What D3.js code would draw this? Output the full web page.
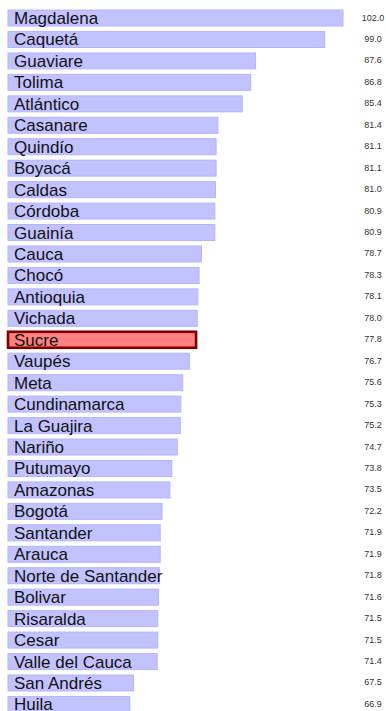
<!DOCTYPE html>
<html>
<head>
<meta charset="utf-8">
<script src="https://cdn.jsdelivr.net/npm/d3@7"></script>
<style>
  html, body { margin: 0; padding: 0; background: #fff; }
  svg { display: block; }
</style>
</head>
<body>
<div id="chart"></div>
<script>
// Departments, in ranked order
const departments = [
  "Magdalena", "Caquetá", "Guaviare", "Tolima", "Atlántico", "Casanare",
  "Quindío", "Boyacá", "Caldas", "Córdoba", "Guainía", "Cauca", "Chocó",
  "Antioquia", "Vichada", "Sucre", "Vaupés", "Meta", "Cundinamarca",
  "La Guajira", "Nariño", "Putumayo", "Amazonas", "Bogotá", "Santander",
  "Arauca", "Norte de Santander", "Bolivar", "Risaralda", "Cesar",
  "Valle del Cauca", "San Andrés", "Huila"
];

// Value per department
const values = [
  102.0, 99.0, 87.6, 86.8, 85.4, 81.4,
  81.1, 81.1, 81.0, 80.9, 80.9, 78.7, 78.3,
  78.1, 78.0, 77.8, 76.7, 75.6, 75.3,
  75.2, 74.7, 73.8, 73.5, 72.2, 71.9,
  71.9, 71.8, 71.6, 71.5, 71.5,
  71.4, 67.5, 66.9
];

// Department shown highlighted
const highlighted = ["Sucre"];

const width = 386, height = 711;
const rows = departments.map((name, i) => ({ name, value: values[i] }));

const svg = d3.select("#chart").append("svg")
  .attr("width", width)
  .attr("height", height);

const minV = d3.min(values), maxV = d3.max(values);
const x = d3.scaleLinear()
  .domain([minV * 0.7, maxV])
  .range([8, 343]);

const step = 21.45;
const y = d3.scaleBand()
  .domain(departments)
  .range([7.3, 7.3 + departments.length * step])
  .paddingInner(0.254)
  .paddingOuter(0.127);

const g = svg.selectAll("g.row")
  .data(rows)
  .join("g")
  .attr("class", "row");

g.append("rect")
  .attr("x", x.range()[0])
  .attr("y", d => y(d.name))
  .attr("width", d => x(d.value) - x.range()[0])
  .attr("height", y.bandwidth())
  .attr("fill", d => highlighted.includes(d.name) ? "#ff8080" : "#c2c2ff")
  .attr("stroke", d => highlighted.includes(d.name) ? "#800000" : "#b4b4ff")
  .attr("stroke-width", d => highlighted.includes(d.name) ? 2.6 : 1);

g.append("text")
  .attr("x", 14)
  .attr("y", d => y(d.name) + 14)
  .attr("font-family", "'Liberation Sans', Arial, sans-serif")
  .attr("font-size", 17)
  .attr("fill", "#111")
  .text(d => d.name);

g.append("text")
  .attr("x", 373)
  .attr("y", d => y(d.name) + 10.5)
  .attr("text-anchor", "middle")
  .attr("font-family", "'Liberation Sans', Arial, sans-serif")
  .attr("font-size", 9)
  .attr("fill", "#333")
  .text(d => d.value.toFixed(1));
</script>
</body>
</html>
